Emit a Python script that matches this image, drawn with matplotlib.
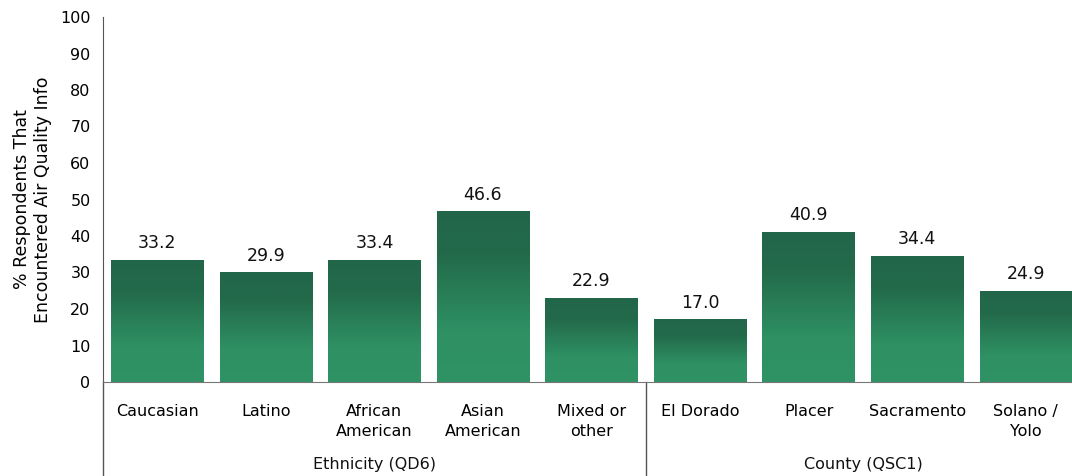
import numpy as np
import matplotlib
matplotlib.use("Agg")
import matplotlib.pyplot as plt
from matplotlib.colors import LinearSegmentedColormap
from matplotlib.transforms import blended_transform_factory

categories = ["Caucasian", "Latino", "African\nAmerican", "Asian\nAmerican", "Mixed or\nother",
              "El Dorado", "Placer", "Sacramento", "Solano /\nYolo"]
values = [33.2, 29.9, 33.4, 46.6, 22.9, 17.0, 40.9, 34.4, 24.9]
groups = ["Ethnicity (QD6)", "County (QSC1)"]
group_sizes = [5, 4]

# dark at the top of each bar, fading to a lighter green at the base
green = LinearSegmentedColormap.from_list(
    "bar_green", [(0.0, "#2f9365"), (0.3, "#2e9063"), (0.75, "#236a4a"), (1.0, "#22664a")])

fig = plt.figure(figsize=(10.72, 4.76), dpi=100)
ax = fig.add_axes([103 / 1072, 94 / 476, 977 / 1072, 365 / 476])

x = np.arange(len(values))
bars = ax.bar(x, values, width=0.85, color="none", edgecolor="none")
grad = np.linspace(0, 1, 256).reshape(-1, 1)
for b, v in zip(bars, values):
    x0, w = b.get_x(), b.get_width()
    ax.imshow(grad, cmap=green, origin="lower", aspect="auto",
              extent=[x0, x0 + w, 0, v], zorder=2, interpolation="bilinear")
    ax.annotate(f"{v:.1f}", (x0 + w / 2, v), xytext=(0, 6), textcoords="offset points",
                ha="center", va="bottom", fontsize=12.5, color="#111111")

ax.set_xlim(-0.5, len(values) - 0.5)
ax.set_ylim(0, 100)
ax.set_yticks(range(0, 101, 10))
ax.set_xticks(x)
ax.set_xticklabels(categories, fontsize=11.5, linespacing=1.4)
ax.tick_params(axis="y", length=0, labelsize=11.5, pad=9)
ax.tick_params(axis="x", length=0, pad=16)
ax.set_ylabel("% Respondents That\nEncountered Air Quality Info", fontsize=12.5, labelpad=6)

for side in ["top", "right"]:
    ax.spines[side].set_visible(False)
ax.spines["left"].set_color("#555555")
ax.spines["bottom"].set_color("#777777")

# group labels and separators below the category axis
trans = blended_transform_factory(ax.transData, ax.transAxes)
ax.plot([0, 0], [-0.26, 0], transform=ax.transAxes, color="#555555", lw=1, clip_on=False)
start = 0
for name, n in zip(groups, group_sizes):
    mid = start + (n - 1) / 2
    ax.text(mid, -0.225, name, transform=trans, ha="center", va="center", fontsize=11.5, color="#111111")
    edge = start + n - 0.5
    ax.plot([edge, edge], [-0.26, 0], transform=trans, color="#555555", lw=1, clip_on=False)
    start += n

fig.savefig("out.png", dpi=100)
